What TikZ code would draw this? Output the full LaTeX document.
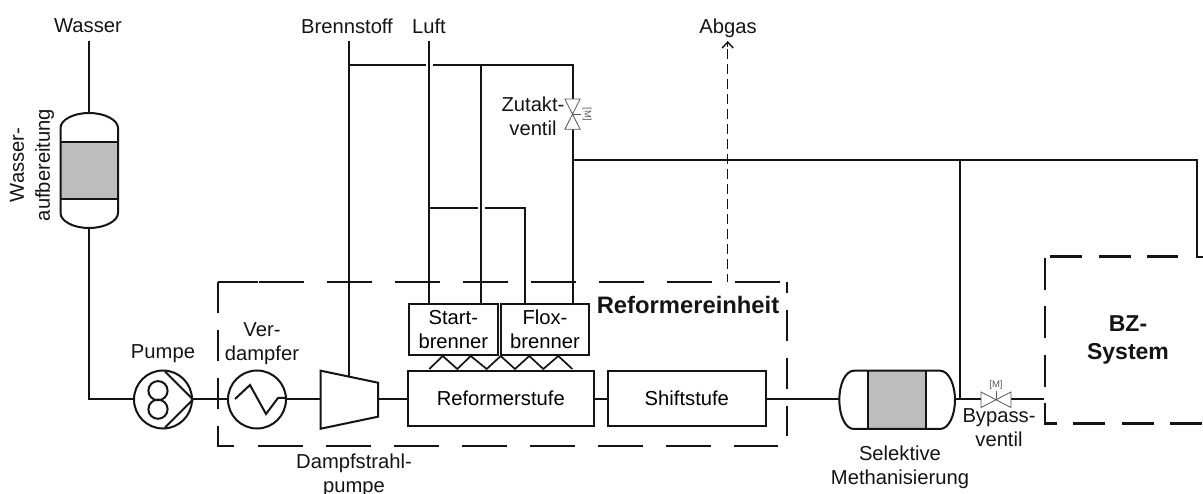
\documentclass[tikz,border=0pt]{standalone}
\usepackage{fontspec}
\setmainfont{Liberation Sans}
\usetikzlibrary{arrows.meta}
\definecolor{ink}{gray}{0.08}
\definecolor{fillgrey}{gray}{0.74}
\definecolor{valvegrey}{gray}{0.35}
\tikzset{
 x=1pt,y=-1pt,
 pipe/.style={draw=ink,line width=2pt},
 box/.style={draw=ink,line width=2pt,inner sep=0pt,rectangle,align=center,font=\fontsize{20.2}{24}\selectfont},
 unit/.style={draw=ink,line width=2pt,circle,inner sep=0pt,minimum size=58pt},
 label/.style={inner sep=0pt,align=center,text=ink,font=\fontsize{20.2}{24}\selectfont},
 boldlabel/.style={inner sep=0pt,align=center,text=ink,font=\fontsize{23}{28.5}\selectfont\bfseries},
 hdash/.style={draw=ink,line width=2.7pt,dash pattern=on 45pt off 23pt},
 vdash/.style={draw=ink,line width=2.7pt,dash pattern=on 31pt off 17pt},
 bzdash/.style={draw=ink,line width=2.7pt,dash pattern=on 32pt off 16.5pt},
 thinvalve/.style={draw=valvegrey,line width=0.8pt},
}
\begin{document}
\begin{tikzpicture}
\useasboundingbox (0,0) rectangle (1203,494);
% text labels
\node[label] (wasser) at (88,26) {Wasser};
\node[label] (brennstoff) at (347,26) {Brennstoff};
\node[label] (luft) at (429,26) {Luft};
\node[label] (abgas) at (728,28) {Abgas};
\node[label] (zutakt) at (533,116) {Zutakt-\\ventil};
\node[label] (pumpelabel) at (163,354) {Pumpe};
\node[label] (verdlabel) at (262,344) {Ver-\\dampfer};
\node[label] (djlabel) at (354,475) {Dampfstrahl-\\pumpe};
\node[label] (selabel) at (900,467) {Selektive\\Methanisierung};
\node[label] (bylabel) at (999,428) {Bypass-\\ventil};
\node[label,rotate=90,font=\fontsize{20.2}{26}\selectfont] (wblabel) at (32,165) {Wasser-\\aufbereitung};
\node[boldlabel,font=\fontsize{23.8}{28.5}\selectfont\bfseries] (relabel) at (688,305) {Reformereinheit};
\node[boldlabel] (bzlabel) at (1128,340) {BZ-\\System};
% junction and free-end coordinates
\coordinate (wtop) at (89,41);
\coordinate (btop) at (349.3,41);
\coordinate (ltop) at (429.3,41);
\coordinate (bjunc) at (349.3,65.5);
\coordinate (gapa) at (426,65.5);
\coordinate (gapb) at (433,65.5);
\coordinate (sfuel) at (481.3,65.5);
\coordinate (fcorner) at (572.5,65.5);
\coordinate (fvtop) at (572.5,99);
\coordinate (fvbot) at (572.5,129.3);
\coordinate (fbranch) at (572.5,160);
\coordinate (mjunc) at (960,160);
\coordinate (rcorner) at (1197,160);
\coordinate (rend) at (1197,256.7);
\coordinate (rend2) at (1203,256.7);
\coordinate (mbot) at (960,399.5);
\coordinate (ljunc) at (429.3,208.3);
\coordinate (gapc) at (478,208.3);
\coordinate (gapd) at (484.5,208.3);
\coordinate (fxcorner) at (525,208.3);
\coordinate (wcorner) at (89,399.5);
\coordinate (bzin) at (1044,399.5);
\coordinate (abgasbot) at (727.7,282);
\coordinate (abgastop) at (727.7,41);
% boxes
\node[box,minimum width=186.5pt,minimum height=55pt] (reformer) at (500.75,398.5) {Reformerstufe};
\node[box,minimum width=157.7pt,minimum height=55pt] (shift) at (686.85,398.5) {Shiftstufe};
\node[box,minimum width=88.7pt,minimum height=51pt] (start) at (453.35,329.5) {Start-\\brenner};
\node[box,minimum width=88pt,minimum height=51pt] (flox) at (545,329.5) {Flox-\\brenner};
% pump and evaporator
\node[unit] (pump) at (163,399.5) {};
\node[unit] (evap) at (257,399.5) {};
\draw[pipe] (158,390.7) circle (9.6);
\draw[pipe] (158,409.2) circle (9.6);
\draw[pipe] (165,371.5) -- (pump.east) -- (165,427.5);
\draw[pipe,line join=miter] (235,399) -- (250,385) -- (266,414) -- (278,398) -- (286,398);
% ejector
\coordinate (ejw) at (320.7,399.5);
\coordinate (eje) at (378,399.5);
\coordinate (ejt) at (349.3,376.7);
\draw[pipe,line join=miter] (320.7,370.7) -- (378,382.7) -- (378,416.7) -- (320.7,428.7) -- cycle;
% water vessel
\coordinate (wvt) at (89,113);
\coordinate (wvb) at (89,228);
\path[fill=fillgrey] (60.5,142) rectangle (118,199);
\draw[pipe] (60.5,128) .. controls (60.5,120) and (73,113) .. (89,113) .. controls (105,113) and (118,120) .. (118,128)
  -- (118,213) .. controls (118,221) and (105,228) .. (89,228) .. controls (73,228) and (60.5,221) .. (60.5,213) -- cycle;
\draw[pipe] (60.5,142) -- (118,142) (60.5,199) -- (118,199);
% methanation vessel
\coordinate (mvw) at (839.3,399.5);
\coordinate (mve) at (955,399.5);
\path[fill=fillgrey] (868,370.7) rectangle (925.7,429);
\draw[pipe] (854,370.7) -- (940,370.7) .. controls (949,370.7) and (955,385) .. (955,399.8) .. controls (955,415) and (949,429) .. (940,429)
  -- (854,429) .. controls (845,429) and (839.3,415) .. (839.3,399.8) .. controls (839.3,385) and (845,370.7) .. (854,370.7) -- cycle;
\draw[pipe] (868,370.7) -- (868,429) (925.7,370.7) -- (925.7,429);
% connectors
\draw[pipe] (wtop) -- (wvt);
\draw[pipe] (wvb) -- (wcorner) -- (pump.west);
\draw[pipe] (pump.east) -- (evap.west);
\draw[pipe] (evap.east) -- (ejw);
\draw[pipe] (eje) -- (eje -| reformer.west);
\draw[pipe] (btop) -- (ejt);
\draw[pipe] (bjunc) -- (gapa);
\draw[pipe] (gapb) -- (fcorner) -- (fvtop);
\draw[pipe] (fvbot) -- (fvbot |- flox.north);
\draw[pipe] (fbranch) -- (mjunc) -- (rcorner) -- (rend) -- (rend2);
\draw[pipe] (mjunc) -- (mbot);
\draw[pipe] (ltop) -- (ltop |- start.north);
\draw[pipe] (sfuel) -- (sfuel |- start.north);
\draw[pipe] (ljunc) -- (gapc);
\draw[pipe] (gapd) -- (fxcorner) -- (fxcorner |- flox.north);
\draw[pipe] (mvw -| reformer.east) -- (mvw -| shift.west);
\draw[pipe] (mvw -| shift.east) -- (mvw);
\draw[pipe] (mve) -- (981,399.5);
\draw[pipe] (1011,399.5) -- (bzin);
\draw[draw=ink,line width=1.4pt,dash pattern=on 10pt off 5pt,dash phase=2pt] (abgasbot) -- (727.7,46);
\draw[draw=ink,line width=1.4pt,-{Straight Barb[length=6pt,width=11pt]}] (727.7,47) -- (abgastop);
% flame zigzag
\draw[pipe,line width=1.7pt] (429.3,369) -- (442.7,356) -- (457.3,369) -- (470.7,356) -- (486.7,369) -- (500.7,356) -- (515,369) -- (529.3,356) -- (543.3,369) -- (558.3,356) -- (572.3,369);
% Zutakt valve
\draw[thinvalve,fill=white] (564.9,99) -- (580.1,99) -- (564.9,129.3) -- (580.1,129.3) -- cycle;
\draw[thinvalve] (572.5,114.2) -- (581,114.2);
\node[inner sep=0pt,rotate=-90,text=valvegrey,font=\fontsize{9.5}{9.5}\selectfont] (zvm) at (587,114.3) {[M]};
% Bypass valve
\draw[thinvalve,fill=white] (981,392) -- (981,407.5) -- (1011,392) -- (1011,407.5) -- cycle;
\draw[thinvalve] (996,399.7) -- (996,391);
\node[inner sep=0pt,text=valvegrey,font=\fontsize{9.5}{9.5}\selectfont] (bvm) at (996,385.3) {[M]};
% Reformereinheit dashed frame
\draw[hdash,dash phase=27pt] (218,282) -- (787,282);
\draw[draw=ink,line width=2.7pt] (218,282) -- (258,282);
\draw[vdash] (218,282) -- (218,427);
\draw[draw=ink,line width=2.7pt] (218,427) -- (218,446) -- (234,446);
\draw[hdash] (258,446) -- (778,446);
\draw[vdash,dash phase=20pt] (787,282) -- (787,436);
% BZ dashed frame
\draw[bzdash] (1050,256.7) -- (1178,256.7);
\draw[bzdash] (1045,258) -- (1045,403);
\draw[draw=ink,line width=2.7pt] (1045,403) -- (1045,423.7) -- (1057,423.7);
\draw[bzdash] (1073,423.7) -- (1203,423.7);
\end{tikzpicture}
\end{document}
